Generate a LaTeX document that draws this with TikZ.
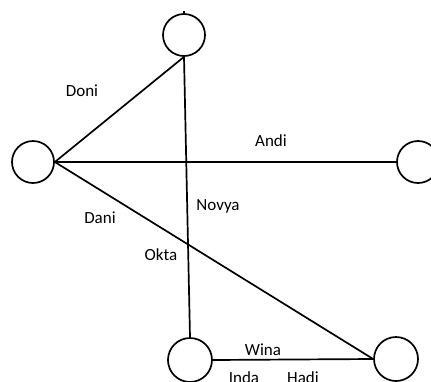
\documentclass[tikz,border=0pt]{standalone}
\usepackage{fontspec}
\setmainfont{Carlito}
\begin{document}
\begin{tikzpicture}[x=1pt,y=-1pt,
  vertex/.style={circle,draw,line width=1.7pt,minimum size=42pt,inner sep=0pt},
  edge/.style={line width=1.7pt},
  lbl/.style={font=\fontsize{17}{20}\selectfont,inner sep=0pt}]
\path[clip] (0,0) rectangle (431,381);
\fill[white] (0,0) rectangle (431,381);
\node[vertex] (top) at (184,35) {};
\node[vertex] (left) at (33,162) {};
\node[vertex] (right) at (418,162) {};
\node[vertex,minimum size=44pt] (bl) at (190,360) {};
\node[vertex,minimum size=44pt] (br) at (396,359) {};
\coordinate (stub) at (184,11);
\draw[edge] (top.north) -- (stub);
\draw[edge] (left.east) -- (top.south);
\draw[edge] (top.south) -- (bl.north);
\draw[edge] (left.east) -- (right.west);
\draw[edge] (left.east) -- (br.west);
\draw[edge] (bl.east) -- (br.west);
\node[lbl] (doni) at (82,91) {Doni};
\node[lbl] (andi) at (271,141) {Andi};
\node[lbl] (novya) at (218,206) {Novya};
\node[lbl] (dani) at (100,218) {Dani};
\node[lbl] (okta) at (161,255) {Okta};
\node[lbl] (wina) at (263,350) {Wina};
\node[lbl] (inda) at (244,378) {Inda};
\node[lbl] (hadi) at (303,378) {Hadi};
\end{tikzpicture}
\end{document}
